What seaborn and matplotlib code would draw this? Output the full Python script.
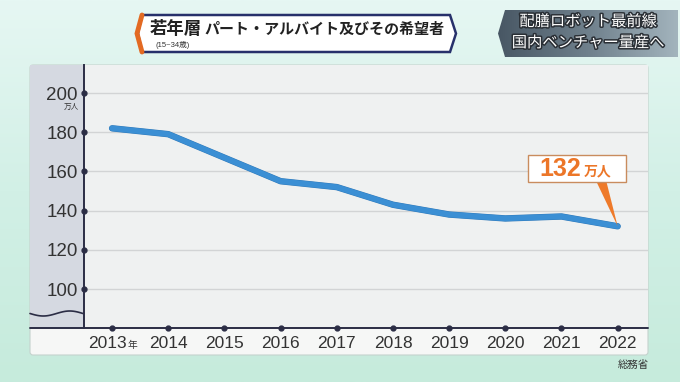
import matplotlib
matplotlib.use('Agg')
import matplotlib.pyplot as plt
import matplotlib.patheffects as pe
from matplotlib.patches import Polygon, Rectangle, FancyBboxPatch
from matplotlib.colors import LinearSegmentedColormap
import seaborn as sns
import numpy as np

# データ（総務省、若年層パート・アルバイト及びその希望者、万人）
years = [2013, 2014, 2015, 2016, 2017, 2018, 2019, 2020, 2021, 2022]
values = [182, 179, 167, 155, 152, 143, 138, 136, 137, 132]
y_ticks = [100, 120, 140, 160, 180, 200]
x_labels = ["", "2014", "2015", "2016", "2017", "2018", "2019", "2020", "2021", "2022"]

title_main = "若年層"
title_sub = "パート・アルバイト及びその希望者"
title_age = "(15~34歳)"
side_lines = ["配膳ロボット最前線", "国内ベンチャー量産へ"]
source = "総務省"

sns.set_style("white")
plt.rcParams['font.family'] = ['Liberation Sans', 'Noto Sans CJK JP', 'DejaVu Sans']

W, H = 680, 382
NAVY = '#2b2d45'
fig = plt.figure(figsize=(6.8, 3.82), dpi=100)


def px_axes(z):
    a = fig.add_axes([0, 0, 1, 1], zorder=z)
    a.set_xlim(0, W)
    a.set_ylim(H, 0)
    a.axis('off')
    a.patch.set_alpha(0)
    return a


# 背景
bg = px_axes(-2)
mint = LinearSegmentedColormap.from_list('mint', ['#e6f7f3', '#d2f0e6', '#c6ebdc'])
bg.imshow(np.linspace(0, 1, 256).reshape(-1, 1), extent=(0, W, H, 0), cmap=mint, aspect='auto')
bg.add_patch(FancyBboxPatch((30, 65), 618, 290, boxstyle='round,pad=0,rounding_size=3',
                            fc='#f6f7f6', ec='#c5d2cd', lw=0.8))
bg.add_patch(Rectangle((30, 65), 54, 263, fc='#d5d9e1', ec='none'))
bg.add_patch(Rectangle((84, 65), 564, 263, fc='#eff1f1', ec='none'))
bg.plot([30, 648], [328, 328], color=NAVY, lw=1.4)
wx = np.linspace(30, 83, 60)
bg.plot(wx, 313.5 + 2.5 * np.sin((wx - 30) / 53 * 2 * np.pi), color=NAVY, lw=1.2)
bg.text(71, 107, "万人", fontsize=5.5, color='#333333', ha='center', va='center')
bg.text(633, 365, source, fontsize=7.5, color='#333333', ha='center', va='center')
bg.set_xlim(0, W)
bg.set_ylim(H, 0)

# グラフ本体
ax = fig.add_axes([84 / W, 1 - 328 / H, 564 / W, 263 / H], zorder=1)
ax.patch.set_alpha(0)
sns.lineplot(x=years, y=values, ax=ax, color='#3b8fd4', lw=4.0,
             solid_capstyle='round', solid_joinstyle='round',
             path_effects=[pe.Stroke(linewidth=4.6, foreground='#2f78b8'), pe.Normal()])
ax.set_xlim(2012.5, 2022.54)
ax.set_ylim(80.1, 214.3)
ax.set_yticks(y_ticks)
ax.set_xticks(years)
ax.set_xticklabels(x_labels)
ax.grid(axis='y', color='#d2d4d5', lw=1)
ax.grid(axis='x', visible=False)
for s in ['top', 'right', 'bottom']:
    ax.spines[s].set_visible(False)
ax.spines['left'].set_color(NAVY)
ax.spines['left'].set_linewidth(1.4)
ax.tick_params(axis='y', length=0, pad=4.5, labelsize=13.5, labelcolor='#333333')
ax.tick_params(axis='x', length=0, pad=5.5, labelsize=12.5, labelcolor='#333333')
ax.set_xlabel("")
ax.set_ylabel("")
ax.plot(years, [80.1] * len(years), 'o', ms=3.5, color=NAVY, clip_on=False, zorder=5)
ax.plot([2012.5] * len(y_ticks), y_ticks, 'o', ms=3.5, color=NAVY, clip_on=False, zorder=5)
ax.annotate("2013", xy=(years[0], 0), xycoords=('data', 'axes fraction'),
            xytext=(10.5, -5.5), textcoords='offset points', ha='right', va='top',
            fontsize=12.5, color='#333333', annotation_clip=False)
ax.annotate("年", xy=(years[0], 0), xycoords=('data', 'axes fraction'),
            xytext=(11, -8.5), textcoords='offset points', ha='left', va='top',
            fontsize=7, color='#333333', annotation_clip=False)

# 上のレイヤー
ov = px_axes(5)

# 吹き出し
ax.annotate("", xy=(years[-1], values[-1]), xytext=(601, 180), textcoords=ov.transData,
            arrowprops=dict(arrowstyle='wedge,tail_width=0.7,shrink_factor=0.5',
                            fc='#ee7a2a', ec='none', shrinkA=0, shrinkB=0))
ov.add_patch(Rectangle((528, 155), 98, 27, fc='white', ec='#c98c5e', lw=1))
ov.text(560, 169, f"{values[-1]}", fontsize=18, weight='bold', color='#ec7628',
        ha='center', va='center')
ov.text(598, 171, "万人", fontsize=10, weight='bold', color='#ec7628',
        ha='center', va='center')

# タイトル
ov.add_patch(Polygon([(142, 15), (450, 15), (456, 33.5), (450, 52), (142, 52), (138, 33.5)],
                     closed=True, fc='white', ec='#27306b', lw=1.8))
ov.plot([142, 137, 142], [15, 33.5, 52], color='#e36a22', lw=3.5, solid_joinstyle='miter')
ov.text(150, 28, title_main, fontsize=12.5, weight='bold', color='#222222', ha='left', va='center')
ov.text(204, 30, title_sub, fontsize=10.8, weight='bold', color='#222222', ha='left', va='center')
ov.text(155, 45, title_age, fontsize=5.5, color='#333333', ha='left', va='center')

# 右上の見出し
side = Polygon([(505, 10), (678, 10), (678, 57), (505, 57), (498, 33.5)],
               closed=True, fc='none', ec='none')
ov.add_patch(side)
slate = LinearSegmentedColormap.from_list('slate', ['#485764', '#6f808c', '#a3b4bd'])
im = ov.imshow(np.linspace(0, 1, 256).reshape(1, -1), extent=(498, 678, 57, 10),
               cmap=slate, aspect='auto')
im.set_clip_path(side)
for i, line in enumerate(side_lines):
    ov.text(588, 22 + 21 * i, line, fontsize=11, color='white', ha='center', va='center',
            path_effects=[pe.withStroke(linewidth=2.2, foreground='#2a2f35')])
ov.set_xlim(0, W)
ov.set_ylim(H, 0)

fig.savefig('out.png', dpi=100)
plt.close()
